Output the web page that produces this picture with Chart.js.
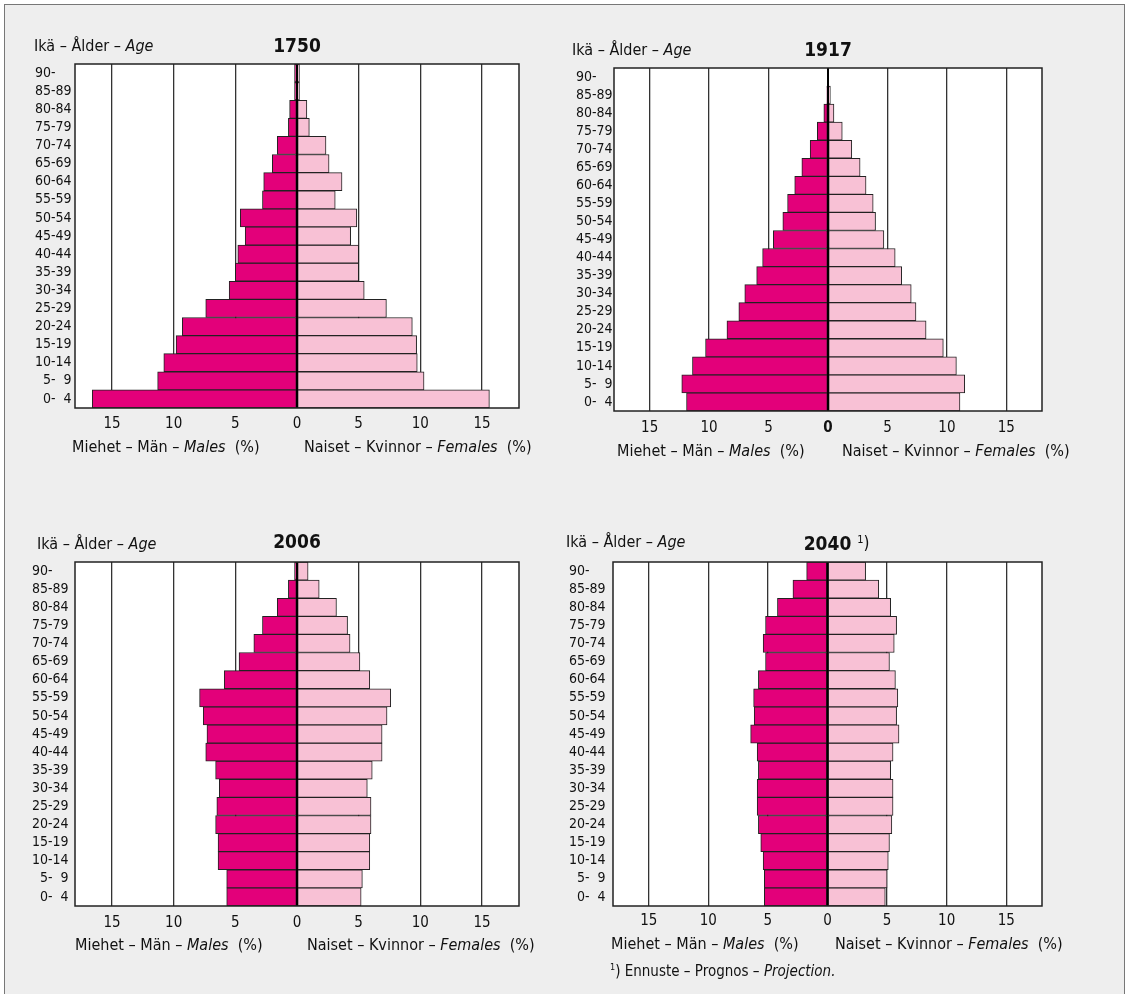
<!DOCTYPE html>
<html>
<head>
<meta charset="utf-8">
<script src="https://cdn.jsdelivr.net/npm/chart.js@4.4.1/dist/chart.umd.min.js"></script>
<style>
  body { margin: 0; background: #fff; }
  #frame { position: absolute; left: 4px; top: 4px; width: 1119px; height: 1000px; background: #eeeeee; border: 1px solid #777; }
  canvas { position: absolute; left: 0; top: 0; }
</style>
</head>
<body>
<div id="frame"></div>
<canvas id="c1" width="1128" height="994"></canvas>
<canvas id="c2" width="1128" height="994"></canvas>
<canvas id="c3" width="1128" height="994"></canvas>
<canvas id="c4" width="1128" height="994"></canvas>
<script>
// age groups, youngest first (the axis is reversed so 90- sits on top)
const ageGroups = ["\u20070-\u20074", "\u20075-\u20079", "10-14", "15-19", "20-24", "25-29", "30-34", "35-39",
  "40-44", "45-49", "50-54", "55-59", "60-64", "65-69", "70-74", "75-79", "80-84", "85-89", "90-"];
const tickValues = [-15, -10, -5, 0, 5, 10, 15];

const males1750 = [16.6, 11.3, 10.8, 9.8, 9.3, 7.4, 5.5, 5.0, 4.8, 4.2, 4.6, 2.8, 2.7, 2.0, 1.6, 0.7, 0.6, 0.2, 0.2];
const females1750 = [15.6, 10.3, 9.75, 9.7, 9.35, 7.25, 5.45, 5.0, 5.0, 4.35, 4.85, 3.1, 3.65, 2.6, 2.35, 1.0, 0.8, 0.2, 0.2];

const males1917 = [11.9, 12.3, 11.4, 10.3, 8.5, 7.5, 7.0, 6.0, 5.5, 4.6, 3.8, 3.4, 2.8, 2.2, 1.5, 0.9, 0.35, 0.1, 0];
const females1917 = [11.1, 11.5, 10.8, 9.7, 8.25, 7.4, 7.0, 6.2, 5.65, 4.7, 4.0, 3.8, 3.2, 2.7, 2.0, 1.2, 0.5, 0.2, 0];

const males2006 = [5.7, 5.7, 6.4, 6.4, 6.6, 6.5, 6.3, 6.6, 7.4, 7.3, 7.6, 7.9, 5.9, 4.7, 3.5, 2.8, 1.6, 0.7, 0.2];
const females2006 = [5.2, 5.3, 5.9, 5.9, 6.0, 6.0, 5.7, 6.1, 6.9, 6.9, 7.3, 7.6, 5.9, 5.1, 4.3, 4.1, 3.2, 1.8, 0.9];

const males2040 = [5.3, 5.3, 5.4, 5.6, 5.8, 5.9, 5.9, 5.8, 5.9, 6.45, 6.15, 6.2, 5.8, 5.2, 5.4, 5.2, 4.2, 2.9, 1.75];
const females2040 = [4.85, 5.0, 5.1, 5.2, 5.4, 5.5, 5.5, 5.3, 5.5, 6.0, 5.8, 5.9, 5.7, 5.2, 5.6, 5.8, 5.3, 4.3, 3.2];

const FONT = '"Liberation Sans Narrow", "DejaVu Sans Condensed", "Arial Narrow", sans-serif';
const MALE = "#e3007a";
const FEMALE = "#f8c1d5";
const INK = "#111";

Chart.defaults.font.family = FONT;
Chart.defaults.color = INK;

const W = 1128, H = 994, X_AXIS_H = 30;

const panels = [
  { id: "c1", year: "1750", males: males1750, females: females1750,
    plot: { l: 75, t: 64, r: 519, b: 408 }, labelLeft: 35, titleY: 47, ageX: 34, ageY: 47,
    tickPad: 7, axisY: 448, menX: 72, womenX: 304 },
  { id: "c2", year: "1917", males: males1917, females: females1917,
    plot: { l: 614, t: 68, r: 1042, b: 411 }, labelLeft: 576, titleY: 51, ageX: 572, ageY: 51,
    tickPad: 8, axisY: 452, menX: 617, womenX: 842, boldZero: true },
  { id: "c3", year: "2006", males: males2006, females: females2006,
    plot: { l: 75, t: 562, r: 519, b: 906 }, labelLeft: 32, titleY: 543, ageX: 37, ageY: 545,
    tickPad: 8, axisY: 946, menX: 75, womenX: 307 },
  { id: "c4", year: "2040", males: males2040, females: females2040,
    plot: { l: 613, t: 562, r: 1042, b: 906 }, labelLeft: 569, titleY: 545, ageX: 566, ageY: 543,
    tickPad: 6, axisY: 945, menX: 611, womenX: 835, note: true }
];

function font(size, style) {
  const w = style === "b" ? "bold " : "";
  const i = style === "i" ? "italic " : "";
  return i + w + size + "px " + FONT;
}

// draws a run of text pieces [text, style] starting at x, middle baseline at y
function rich(ctx, x, y, parts, size) {
  ctx.textBaseline = "middle";
  ctx.textAlign = "left";
  parts.forEach(([t, s]) => {
    if (s === "sup") {
      ctx.font = font(Math.round(size * 0.62), "");
      ctx.fillText(t, x, y - size * 0.3);
    } else {
      ctx.font = font(size, s);
      ctx.fillText(t, x, y);
    }
    x += ctx.measureText(t).width;
  });
  return x;
}

function panelPlugin(p) {
  return {
    id: "panel_" + p.id,
    beforeDraw(chart) {
      const { ctx, chartArea: a } = chart;
      ctx.save();
      ctx.fillStyle = "#fff";
      ctx.fillRect(a.left, a.top, a.right - a.left, a.bottom - a.top);
      ctx.restore();
    },
    afterDatasetsDraw(chart) {
      const { ctx, chartArea: a } = chart;
      const zx = chart.scales.x.getPixelForValue(0);
      ctx.save();
      ctx.strokeStyle = "#000";
      ctx.lineWidth = 2;
      ctx.beginPath();
      ctx.moveTo(zx, a.top);
      ctx.lineTo(zx, a.bottom);
      ctx.stroke();
      ctx.strokeStyle = "#222";
      ctx.lineWidth = 1.5;
      ctx.strokeRect(a.left, a.top, a.right - a.left, a.bottom - a.top);
      ctx.restore();
    },
    afterDraw(chart) {
      const ctx = chart.ctx;
      const zx = chart.scales.x.getPixelForValue(0);
      ctx.save();
      ctx.fillStyle = INK;
      // year title, centred on the zero line
      ctx.font = font(19, "b");
      ctx.textAlign = "center";
      ctx.textBaseline = "middle";
      ctx.fillText(p.year, zx, p.titleY);
      if (p.note) {
        const end = zx + ctx.measureText(p.year).width / 2 + 6;
        rich(ctx, end, p.titleY, [["1", "sup"], [")", ""]], 17);
      }
      rich(ctx, p.ageX, p.ageY, [["Ikä – Ålder – ", ""], ["Age", "i"]], 16);
      rich(ctx, p.menX, p.axisY, [["Miehet – Män – ", ""], ["Males", "i"], ["  (%)", ""]], 16);
      rich(ctx, p.womenX, p.axisY, [["Naiset – Kvinnor – ", ""], ["Females", "i"], ["  (%)", ""]], 16);
      if (p.note) {
        rich(ctx, p.menX - 1, 972, [["1", "sup"], [") Ennuste – Prognos – ", ""], ["Projection.", "i"]], 15);
      }
      ctx.restore();
    }
  };
}

panels.forEach(p => {
  new Chart(document.getElementById(p.id), {
    type: "bar",
    data: {
      labels: ageGroups,
      datasets: [
        { label: "Males", data: p.males.map(v => -v), backgroundColor: MALE },
        { label: "Females", data: p.females, backgroundColor: FEMALE }
      ]
    },
    options: {
      indexAxis: "y",
      responsive: false,
      animation: false,
      events: [],
      layout: {
        padding: { left: p.labelLeft, top: p.plot.t, right: W - p.plot.r, bottom: H - p.plot.b - X_AXIS_H }
      },
      datasets: {
        bar: { barPercentage: 1, categoryPercentage: 1, borderWidth: 1, borderColor: "#222", borderSkipped: false }
      },
      plugins: { legend: { display: false }, tooltip: { enabled: false }, title: { display: false } },
      scales: {
        x: {
          stacked: true,
          min: -18,
          max: 18,
          afterBuildTicks: s => { s.ticks = tickValues.map(v => ({ value: v })); },
          afterFit: s => { s.height = X_AXIS_H; },
          grid: { color: "#333", lineWidth: 1.3, drawTicks: false },
          border: { display: false },
          ticks: {
            padding: p.tickPad,
            maxRotation: 0,
            autoSkip: false,
            color: INK,
            font: c => ({ size: 15, weight: p.boldZero && c.tick && c.tick.value === 0 ? "bold" : "normal" }),
            callback: v => String(Math.abs(v))
          }
        },
        y: {
          stacked: true,
          reverse: true,
          afterFit: s => { s.width = p.plot.l - p.labelLeft; },
          grid: { display: false },
          border: { display: false },
          ticks: { crossAlign: "far", padding: 0, autoSkip: false, color: INK, font: { size: 14 } }
        }
      }
    },
    plugins: [panelPlugin(p)]
  });
});
</script>
</body>
</html>
